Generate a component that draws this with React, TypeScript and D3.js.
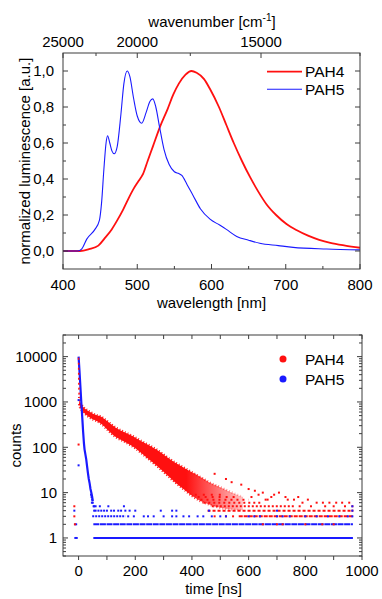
import React from 'react';
import * as d3 from 'd3';

// ---- emission spectra (normalized) ----
const pah4Wavelength = [400, 423, 435, 447.6, 456, 465.6, 473, 481, 488, 495, 502, 508, 514, 521, 530.6, 541, 548.6, 556, 565, 573, 580, 590, 598, 610, 620, 630, 641, 652, 663, 674, 687, 701, 715, 730, 745, 760, 780, 800];
const pah4Intensity = [0, 0, 0.01, 0.03, 0.07, 0.12, 0.17, 0.23, 0.29, 0.345, 0.39, 0.43, 0.5, 0.58, 0.69, 0.79, 0.87, 0.93, 0.98, 1.0, 0.99, 0.955, 0.9, 0.8, 0.7, 0.6, 0.5, 0.41, 0.33, 0.26, 0.2, 0.15, 0.115, 0.085, 0.062, 0.045, 0.03, 0.018];

const pah5Wavelength = [400, 420, 425, 432, 443, 449, 452, 455, 458, 460, 463, 466, 469, 473, 478, 482, 486.5, 490, 495, 500, 506, 512, 517, 521, 525, 530, 536, 543, 550, 556, 560, 567, 575, 585, 598, 611, 620, 634, 650, 665, 690, 710, 755, 800];
const pah5Intensity = [0, 0, 0.01, 0.066, 0.12, 0.17, 0.27, 0.45, 0.6, 0.64, 0.6, 0.555, 0.54, 0.58, 0.76, 0.93, 1.0, 0.97, 0.85, 0.75, 0.71, 0.77, 0.83, 0.845, 0.8, 0.69, 0.565, 0.48, 0.44, 0.43, 0.42, 0.37, 0.31, 0.235, 0.177, 0.144, 0.12, 0.081, 0.06, 0.043, 0.03, 0.02, 0.011, 0.006];

const wavelengthTicks = [400, 500, 600, 700, 800];
const intensityTicks = [0, 0.2, 0.4, 0.6, 0.8, 1.0];
const wavenumberTicks = [25000, 20000, 15000];
const wavenumberMinor = [22500, 17500, 12500];

// ---- decay curves ----
const pah4RiseTime = [0, 0.5, 1, 2];
const pah4RiseCounts = [9500, 4000, 2300, 1300];
const pah4Time = [2, 5, 10, 20, 30, 45, 60, 80, 100, 130, 160, 190, 220, 250, 280, 310, 340, 370, 400, 430, 460, 490, 520, 550, 580];
const pah4Upper = [1300, 1000, 880, 740, 660, 580, 520, 470, 380, 275, 218, 178, 138, 110, 85, 62, 46, 36, 28, 22, 17, 14, 11.5, 9.5, 8];
const pah4Lower = [900, 760, 680, 570, 500, 430, 390, 330, 250, 170, 135, 105, 76, 53, 37, 25, 17, 12, 8.5, 6.5, 5.5, 4.8, 4.4, 4.2, 4.1];
const pah4RowCount = [3, 4, 5, 6, 7, 8, 9];
const pah4RowStart = [565, 455, 470, 440, 430, 420, 410];
const pah4RowEnd = [968, 968, 760, 650, 600, 560, 520];
const pah4SparseTime = [-15, -15, -13, 0, 480, 574, 622, 650, 707, 775, 809, 862, 909, 738, 667, 840, 885, 930, 955, 520, 540, 600, 690, 730, 780, 820, 870, 900, 940, 966, 966, 480, 520, 545, 650, 700, 720, 800, 860, 900, 610, 635, 660, 680, 760, 790];
const pah4SparseCounts = [5, 3, 2, 115, 26, 15, 11, 10, 10, 8, 7, 6, 6, 7, 7, 6, 6, 6, 6, 20, 17, 12, 9, 8, 5, 5, 5, 5, 5, 5, 4, 3, 3, 3, 2, 2, 2, 2, 2, 2, 8, 9, 7, 8, 7, 6];

const pah5Time = [0, 3, 6, 9.5, 13, 16, 19, 21, 24, 27, 30, 33, 36, 39, 42, 45, 48, 50];
const pah5Counts = [10000, 5000, 2400, 1000, 450, 220, 120, 90, 70, 54, 38, 27, 20, 16, 12, 10, 8, 6.5];
const pah5RowCount = [1, 1, 2, 2, 3];
const pah5RowStart = [-15, 52, -15, 52, 48];
const pah5RowEnd = [-3, 968, -5, 968, 165];
const pah5SparseTime = [0, 0, 44, 46, 48, 50, 47, 53, 55,
  175, 195, 230, 245, 265, 300, 330, 345, 370, 390, 420, 440, 470, 500, 520, 600, 620, 640, 700, 720, 745, 800, 840, 880, 920, 950, 966,
  -15, 55, 60, 70, 80, 90, 100, 115, 125, 140, 150, 165, 180, 200, 290, 330, 345, 460, 700, 966,
  60, 75, 105, 160, 966];
const pah5SparseCounts = [1100, 40, 9, 8, 7, 6, 6, 5, 5,
  3, 3, 3, 3, 3, 3, 3, 3, 3, 3, 3, 3, 3, 3, 3, 3, 3, 3, 3, 3, 3, 3, 3, 3, 3, 3, 3,
  4, 4, 4, 4, 4, 4, 4, 4, 4, 4, 4, 4, 4, 4, 4, 4, 4, 4, 4, 4,
  5, 5, 5, 5, 5];

const timeTicks = [0, 100, 200, 300, 400, 500, 600, 700, 800, 900, 1000];
const timeLabels = [0, 200, 400, 600, 800, 1000];
const countTicks = [1, 10, 100, 1000, 10000];

const FONT = "'Liberation Sans', Arial, Helvetica, sans-serif";
const AXIS = '#3c3c3c';
const RED = '#ff1010';
const BLUE = '#1a1aff';

export default function App() {
  // top chart scales
  const xT = d3.scaleLinear().domain([400, 800]).range([63, 360]);
  const yT = d3.scaleLinear().domain([-0.1, 1.1]).range([269, 53]);
  const wn = (v: number) => xT(1e7 / v);

  const spec = d3.line<[number, number]>()
    .x(d => xT(d[0])).y(d => yT(d[1]))
    .curve(d3.curveMonotoneX);
  const pah4Spec = spec(pah4Wavelength.map((w, i) => [w, pah4Intensity[i]] as [number, number]));
  const pah5Spec = spec(pah5Wavelength.map((w, i) => [w, pah5Intensity[i]] as [number, number]));

  const [tx0, tx1] = xT.range();
  const [ty0, ty1] = yT.range();
  const xMinorT = d3.range(450, 800, 100);
  const yMinorT = d3.range(-0.1, 1.11, 0.1).filter(v => Math.abs(Math.round(v * 10) % 2) === 1 && v > -0.05 && v < 1.05);

  // bottom chart scales
  const xB = d3.scaleLinear().domain([-55, 1000]).range([63, 362]);
  const yB = d3.scaleLog().domain([0.4, 30000]).range([556, 335]);
  const [bx0, bx1] = xB.range();
  const [by0, by1] = yB.range();
  const yMinorB: number[] = [];
  [0.1, 1, 10, 100, 1000, 10000].forEach(dec => {
    for (let k = 2; k <= 9; k++) {
      const v = k * dec;
      if (v >= 0.4 && v <= 30000) yMinorB.push(v);
    }
  });

  const band = d3.area<number>()
    .x((_, i) => xB(pah4Time[i]))
    .y0((_, i) => yB(pah4Lower[i]))
    .y1((_, i) => yB(pah4Upper[i]))
    .curve(d3.curveMonotoneX);
  const bandEdgeTop = d3.line<number>().x((_, i) => xB(pah4Time[i])).y((_, i) => yB(pah4Upper[i])).curve(d3.curveMonotoneX);
  const bandEdgeBottom = d3.line<number>().x((_, i) => xB(pah4Time[i])).y((_, i) => yB(pah4Lower[i])).curve(d3.curveMonotoneX);
  const decayLine = d3.line<number>().x((_, i) => xB(pah5Time[i])).y(d => yB(d));
  const riseLine = d3.line<number>().x((_, i) => xB(pah4RiseTime[i])).y(d => yB(d));

  const redDash = ['4,1', '3,2', '2,2', '2,3', '2,4', '2,5', '2,6'];

  return (
    <svg width={382} height={599} style={{ position: 'absolute', left: 0, top: 0, background: '#fff' }}
      fontFamily={FONT}>
      <rect width={382} height={599} fill="#fff" />

      {/* ===== top chart ===== */}
      <g>
        <path d={pah4Spec ?? ''} fill="none" stroke={RED} strokeWidth={1.8} />
        <path d={pah5Spec ?? ''} fill="none" stroke={BLUE} strokeWidth={1.1} />

        <rect x={tx0} y={ty1} width={tx1 - tx0} height={ty0 - ty1} fill="none" stroke={AXIS} strokeWidth={1} />

        {wavelengthTicks.map(v => (
          <g key={'wl' + v}>
            <line x1={xT(v)} x2={xT(v)} y1={ty0} y2={ty0 - 5} stroke={AXIS} />
            <text x={xT(v)} y={290} textAnchor="middle" fontSize={15}>{v}</text>
          </g>
        ))}
        {xMinorT.map(v => (
          <line key={'wlm' + v} x1={xT(v)} x2={xT(v)} y1={ty0} y2={ty0 - 3} stroke={AXIS} />
        ))}
        {wavenumberTicks.map(v => (
          <g key={'wn' + v}>
            <line x1={wn(v)} x2={wn(v)} y1={ty1} y2={ty1 + 5} stroke={AXIS} />
            <text x={wn(v)} y={46.5} textAnchor="middle" fontSize={15}>{v}</text>
          </g>
        ))}
        {wavenumberMinor.map(v => (
          <line key={'wnm' + v} x1={wn(v)} x2={wn(v)} y1={ty1} y2={ty1 + 3} stroke={AXIS} />
        ))}
        {intensityTicks.map(v => (
          <g key={'it' + v}>
            <line x1={tx0} x2={tx0 + 5} y1={yT(v)} y2={yT(v)} stroke={AXIS} />
            <line x1={tx1} x2={tx1 - 5} y1={yT(v)} y2={yT(v)} stroke={AXIS} />
            <text x={54} y={yT(v)} dy="0.36em" textAnchor="end" fontSize={15}>{v.toFixed(1).replace('.', ',')}</text>
          </g>
        ))}
        {yMinorT.map(v => (
          <g key={'itm' + v}>
            <line x1={tx0} x2={tx0 + 3} y1={yT(v)} y2={yT(v)} stroke={AXIS} />
            <line x1={tx1} x2={tx1 - 3} y1={yT(v)} y2={yT(v)} stroke={AXIS} />
          </g>
        ))}

        <text x={(tx0 + tx1) / 2} y={307.5} textAnchor="middle" fontSize={15}>wavelength [nm]</text>
        <text x={212} y={27} textAnchor="middle" fontSize={15}>
          wavenumber [cm<tspan dy={-6} fontSize={10}>-1</tspan><tspan dy={6}>]</tspan>
        </text>
        <text transform={`translate(30,${(ty0 + ty1) / 2}) rotate(-90)`} textAnchor="middle" fontSize={15}>
          normalized luminescence [a.u.]
        </text>

        {/* legend */}
        {[['PAH4', RED, 1.8], ['PAH5', BLUE, 1.1]].map(([name, c, w], i) => (
          <g key={'lg' + name} transform={`translate(0,${71.7 + i * 17.6})`}>
            <line x1={267} x2={302} y1={0} y2={0} stroke={c as string} strokeWidth={w as number} />
            <text x={305} y={0} dy="0.36em" fontSize={15.5}>{name}</text>
          </g>
        ))}
      </g>

      {/* ===== bottom chart ===== */}
      <g>
        <defs>
          <clipPath id="plotB">
            <rect x={bx0} y={by1} width={bx1 - bx0} height={by0 - by1} />
          </clipPath>
          <linearGradient id="tailFade" gradientUnits="userSpaceOnUse" x1={xB(380)} x2={xB(580)} y1={0} y2={0}>
            <stop offset="0" stopColor={RED} stopOpacity={1} />
            <stop offset="1" stopColor={RED} stopOpacity={0.25} />
          </linearGradient>
        </defs>
        <g clipPath="url(#plotB)">
          {pah5RowCount.map((c, i) => (
            <line key={'b5r' + i} x1={xB(pah5RowStart[i])} x2={xB(pah5RowEnd[i])} y1={yB(c)} y2={yB(c)}
              stroke={BLUE} strokeWidth={2} strokeDasharray={c === 3 ? '2,1' : c === 2 ? '6,0.6' : undefined} />
          ))}
          <path d={band(pah4Time) ?? ''} fill="url(#tailFade)" />
          <path d={bandEdgeTop(pah4Time) ?? ''} fill="none" stroke="url(#tailFade)" strokeWidth={2.5} strokeDasharray="1,2" />
          <path d={bandEdgeBottom(pah4Time) ?? ''} fill="none" stroke="url(#tailFade)" strokeWidth={2.5} strokeDasharray="1,2" />
          {pah4RowCount.map((c, i) => (
            <line key={'b4r' + i} x1={xB(pah4RowStart[i])} x2={xB(pah4RowEnd[i])} y1={yB(c)} y2={yB(c)}
              stroke={RED} strokeWidth={2} strokeDasharray={redDash[i]} />
          ))}
          {pah4SparseTime.map((t, i) => (
            <rect key={'b4s' + i} x={xB(t) - 1} y={yB(pah4SparseCounts[i]) - 1} width={2} height={2} fill={RED} />
          ))}
          <path d={decayLine(pah5Counts) ?? ''} fill="none" stroke={BLUE} strokeWidth={2.2} />
          <path d={riseLine(pah4RiseCounts) ?? ''} fill="none" stroke={RED} strokeWidth={1.5} strokeDasharray="2,3" />
          {pah5SparseTime.map((t, i) => (
            <rect key={'b5s' + i} x={xB(t) - 1} y={yB(pah5SparseCounts[i]) - 1} width={2} height={2} fill={BLUE} />
          ))}
        </g>

        <rect x={bx0} y={by1} width={bx1 - bx0} height={by0 - by1} fill="none" stroke={AXIS} strokeWidth={1} />

        {timeTicks.map(v => (
          <g key={'tt' + v}>
            <line x1={xB(v)} x2={xB(v)} y1={by0} y2={by0 + 4} stroke={AXIS} />
            <line x1={xB(v)} x2={xB(v)} y1={by1} y2={by1 + 4} stroke={AXIS} />
          </g>
        ))}
        {timeLabels.map(v => (
          <text key={'tl' + v} x={xB(v)} y={576} textAnchor="middle" fontSize={15}>{v}</text>
        ))}
        {countTicks.map(v => (
          <g key={'ct' + v}>
            <line x1={bx0} x2={bx0 + 5} y1={yB(v)} y2={yB(v)} stroke={AXIS} />
            <line x1={bx1} x2={bx1 - 5} y1={yB(v)} y2={yB(v)} stroke={AXIS} />
            <text x={57} y={yB(v)} dy="0.36em" textAnchor="end" fontSize={15}>{v}</text>
          </g>
        ))}
        {yMinorB.map(v => (
          <g key={'cm' + v}>
            <line x1={bx0} x2={bx0 + 3} y1={yB(v)} y2={yB(v)} stroke={AXIS} />
            <line x1={bx1} x2={bx1 - 3} y1={yB(v)} y2={yB(v)} stroke={AXIS} />
          </g>
        ))}

        <text x={(bx0 + bx1) / 2 + 1} y={594} textAnchor="middle" fontSize={15}>time [ns]</text>
        <text transform={`translate(21,${(by0 + by1) / 2}) rotate(-90)`} textAnchor="middle" fontSize={15}>counts</text>

        {[['PAH4', RED], ['PAH5', BLUE]].map(([name, c], i) => (
          <g key={'lgb' + name} transform={`translate(0,${359 + i * 20})`}>
            <circle cx={283} cy={0} r={3.5} fill={c} />
            <text x={305} y={0} dy="0.36em" fontSize={15.5}>{name}</text>
          </g>
        ))}
      </g>
    </svg>
  );
}
